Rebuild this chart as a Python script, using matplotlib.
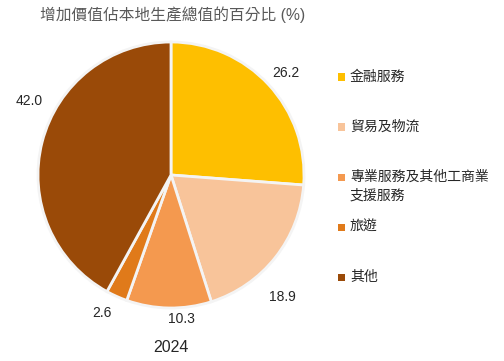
import matplotlib
matplotlib.use("Agg")
import matplotlib.pyplot as plt
from matplotlib.patches import Rectangle

plt.rcParams['font.family'] = ['Liberation Sans', 'Noto Sans CJK TC', 'DejaVu Sans']

# data
sectors = ['金融服務', '貿易及物流', '專業服務及其他工商業\n支援服務', '旅遊', '其他']
shares = [26.2, 18.9, 10.3, 2.6, 42.0]
colors = ['#FEBF00', '#F8C49A', '#F4994F', '#E07A1A', '#9A4A08']
year = '2024'
title = '增加價值佔本地生產總值的百分比 (%)'

# where the value labels sit (pie radius = 1), as in the original
label_xy = [(0.86, 0.77), (0.84, -0.92), (0.08, -1.08), (-0.52, -1.04), (-1.07, 0.56)]

fig = plt.figure(figsize=(5.04, 3.61), dpi=100)
ax = fig.add_axes([38 / 504, 53 / 361, 266 / 504, 266 / 361])

wedges, texts = ax.pie(shares, colors=colors, startangle=90, counterclock=False,
                       radius=1.0,
                       wedgeprops=dict(edgecolor='#F4F4F4', linewidth=2.0))
ax.set_xlim(-1, 1)
ax.set_ylim(-1, 1)
ax.set_aspect('auto')
ax.axis('off')

for v, (x, y) in zip(shares, label_xy):
    ax.text(x, y, '{:.1f}'.format(v), fontsize=10, color='#262626',
            ha='center', va='center', clip_on=False)

fig.text(40 / 504, 1 - 15 / 361, title, fontsize=11.3, color='#595959',
         ha='left', va='center')
fig.text(171 / 504, 1 - 347 / 361, year, fontsize=11.5, color='#262626',
         ha='center', va='center')

# legend drawn by hand
for i, (name, c) in enumerate(zip(sectors, colors)):
    yc = 77 + 50 * i
    fig.patches.append(Rectangle((338 / 504, 1 - (yc + 3.5) / 361), 7 / 504, 7 / 361,
                                 transform=fig.transFigure, facecolor=c,
                                 edgecolor='none'))
    for j, line in enumerate(name.split('\n')):
        fig.text(350 / 504, 1 - (yc + 19 * j) / 361, line, fontsize=10,
                 color='#262626', ha='left', va='center')

fig.savefig('out.png', dpi=100, facecolor='white')
